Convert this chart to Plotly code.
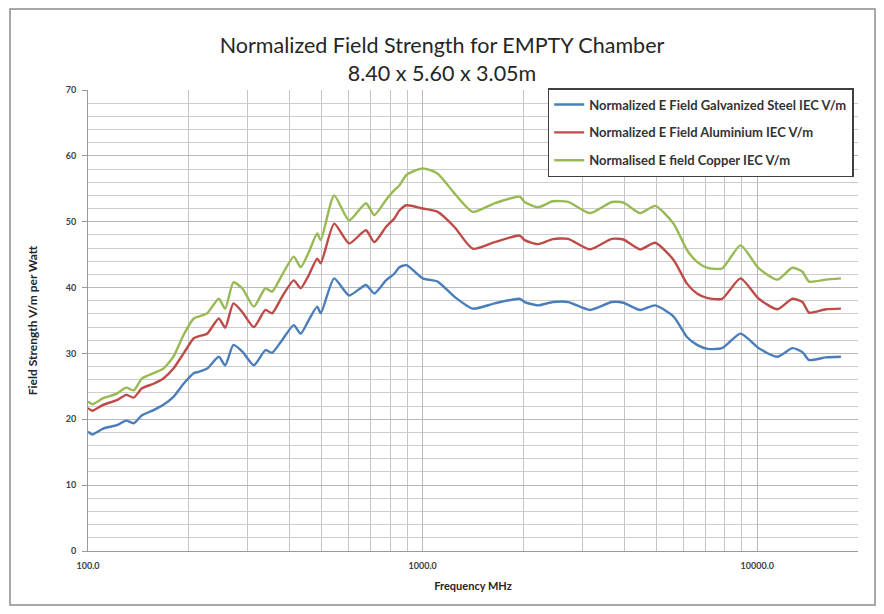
import plotly.graph_objects as go

freq_mhz = [100, 103, 111, 122, 130, 137, 145, 157, 168, 180, 193, 207, 214, 227, 246, 257, 272, 289,
            313, 339, 355, 380, 412, 432, 457, 484, 496, 544, 603, 677, 717, 777, 823, 852, 895,
            1000, 1109, 1245, 1412, 1641, 1950, 2018, 2213, 2450, 2722, 3163, 3674, 3980, 4467,
            4955, 5622, 6166, 6607, 7100, 7853, 8910, 10111, 11482, 12735, 13646, 14281, 16031, 17782]

galvanized_steel = [18.1, 17.7, 18.6, 19.1, 19.8, 19.4, 20.6, 21.4, 22.2, 23.4, 25.4, 27.0, 27.2, 27.7,
                    29.5, 28.2, 31.3, 30.3, 28.2, 30.5, 30.1, 32.0, 34.3, 33.0, 35.1, 37.1, 36.1, 41.4,
                    38.8, 40.4, 39.1, 41.1, 42.1, 43.1, 43.4, 41.4, 40.9, 38.6, 36.8, 37.6, 38.3, 37.8,
                    37.3, 37.8, 37.8, 36.6, 37.8, 37.7, 36.6, 37.3, 35.6, 32.5, 31.3, 30.7, 30.8, 33.0,
                    30.8, 29.5, 30.8, 30.2, 29.0, 29.4, 29.5]

aluminium = [21.7, 21.3, 22.2, 22.9, 23.7, 23.3, 24.7, 25.4, 26.2, 27.7, 30.0, 32.3, 32.6, 33.0,
             35.3, 33.9, 37.6, 36.3, 34.0, 36.6, 36.1, 38.6, 41.1, 39.9, 41.9, 44.4, 43.7, 49.7,
             46.7, 48.7, 46.9, 49.2, 50.5, 51.7, 52.5, 52.0, 51.5, 49.2, 45.9, 46.9, 47.9, 47.2,
             46.6, 47.35, 47.4, 45.8, 47.4, 47.3, 45.8, 46.8, 44.2, 40.6, 39.1, 38.4, 38.3, 41.4,
             38.3, 36.7, 38.3, 37.8, 36.2, 36.7, 36.8]

copper = [22.7, 22.3, 23.2, 23.9, 24.8, 24.4, 26.2, 27.0, 27.7, 29.5, 32.8, 35.3, 35.6, 36.1,
          38.3, 36.8, 40.8, 39.9, 37.1, 39.9, 39.4, 41.9, 44.7, 43.1, 45.4, 48.2, 47.2, 54.0,
          50.2, 52.8, 51.0, 53.3, 54.8, 55.5, 57.1, 58.1, 57.3, 54.3, 51.5, 52.8, 53.8, 53.0,
          52.2, 53.1, 53.0, 51.3, 53.0, 52.9, 51.3, 52.4, 49.7, 45.7, 43.9, 43.0, 42.9, 46.4,
          42.9, 41.2, 43.0, 42.4, 40.9, 41.2, 41.4]

series_names = ["Normalized E Field Galvanized Steel IEC V/m",
                "Normalized E Field Aluminium IEC V/m",
                "Normalised E field Copper IEC V/m"]
series_colors = ["#4A7EBB", "#BE4B48", "#98B954"]

y_major_ticks = [0, 10, 20, 30, 40, 50, 60, 70]
x_major_ticks = [100, 1000, 10000]
x_major_labels = ["100.0", "1000.0", "10000.0"]
x_minor_ticks = [m * d for d in (100, 1000, 10000) for m in range(2, 10)] + [20000]

FONT = "Lato"

fig = go.Figure()
for i, (name, vals, col) in enumerate(zip(series_names, [galvanized_steel, aluminium, copper], series_colors)):
    fig.add_trace(go.Scatter(
        x=freq_mhz, y=vals, name=name, mode="lines",
        line=dict(color=col, width=2.4, shape="spline", smoothing=0.6),
        legendgroup=f"g{i}",
    ))

fig.update_layout(
    width=868, height=598,
    margin=dict(l=80, r=18, t=82, b=55, autoexpand=False),
    paper_bgcolor="white", plot_bgcolor="white",
    font=dict(family=FONT, color="#404040"),
    title=dict(
        text="Normalized Field Strength for EMPTY Chamber<br>8.40 x 5.60 x 3.05m",
        x=0.5, xref="container", xanchor="center",
        y=0.925, yref="container", yanchor="middle",
        font=dict(family=FONT, size=21.5, color="#262626"),
    ),
    showlegend=True,
    legend=dict(
        x=0.597, y=1.0043, xanchor="left", yanchor="top",
        bgcolor="white", bordercolor="#404040", borderwidth=1.5,
        font=dict(family=FONT, size=13, color="#333333", weight="bold"),
        tracegroupgap=8,
        itemwidth=30,
    ),
    xaxis=dict(
        type="log", range=[2, 4.30103], automargin=False,
        tickmode="array", tickvals=x_major_ticks, ticktext=x_major_labels,
        tickfont=dict(family=FONT, size=9, color="#404040", weight="bold"),
        ticklabelstandoff=6,
        showgrid=True, gridcolor="#b8b8b8", gridwidth=1,
        minor=dict(tickmode="array", tickvals=x_minor_ticks, showgrid=True,
                   gridcolor="#c4c4c4", gridwidth=1),
        showline=True, linecolor="#9a9a9a", linewidth=1,
        ticks="", zeroline=False,
        title=dict(text="Frequency MHz", standoff=12,
                   font=dict(family=FONT, size=11, color="#262626", weight="bold")),
    ),
    yaxis=dict(
        range=[0, 70], automargin=False,
        tickmode="array", tickvals=y_major_ticks,
        tickfont=dict(family=FONT, size=9, color="#404040", weight="bold"),
        ticklabelstandoff=4,
        showgrid=True, gridcolor="#b8b8b8", gridwidth=1,
        minor=dict(dtick=2, showgrid=True, gridcolor="#cdcdcd", gridwidth=1),
        showline=True, linecolor="#9a9a9a", linewidth=1,
        ticks="outside", ticklen=5, tickcolor="#9a9a9a",
        zeroline=False,
        title=dict(text="Field Strength V/m per Watt", standoff=25,
                   font=dict(family=FONT, size=12, color="#262626", weight="bold")),
    ),
    shapes=[dict(type="rect", xref="paper", yref="paper",
                 x0=-0.1013, x1=1.0221, y0=-0.1171, y1=1.1757,
                 line=dict(color="#8c8c8c", width=1.5), fillcolor="rgba(0,0,0,0)", layer="below")],
)

fig.write_html("out.html")
